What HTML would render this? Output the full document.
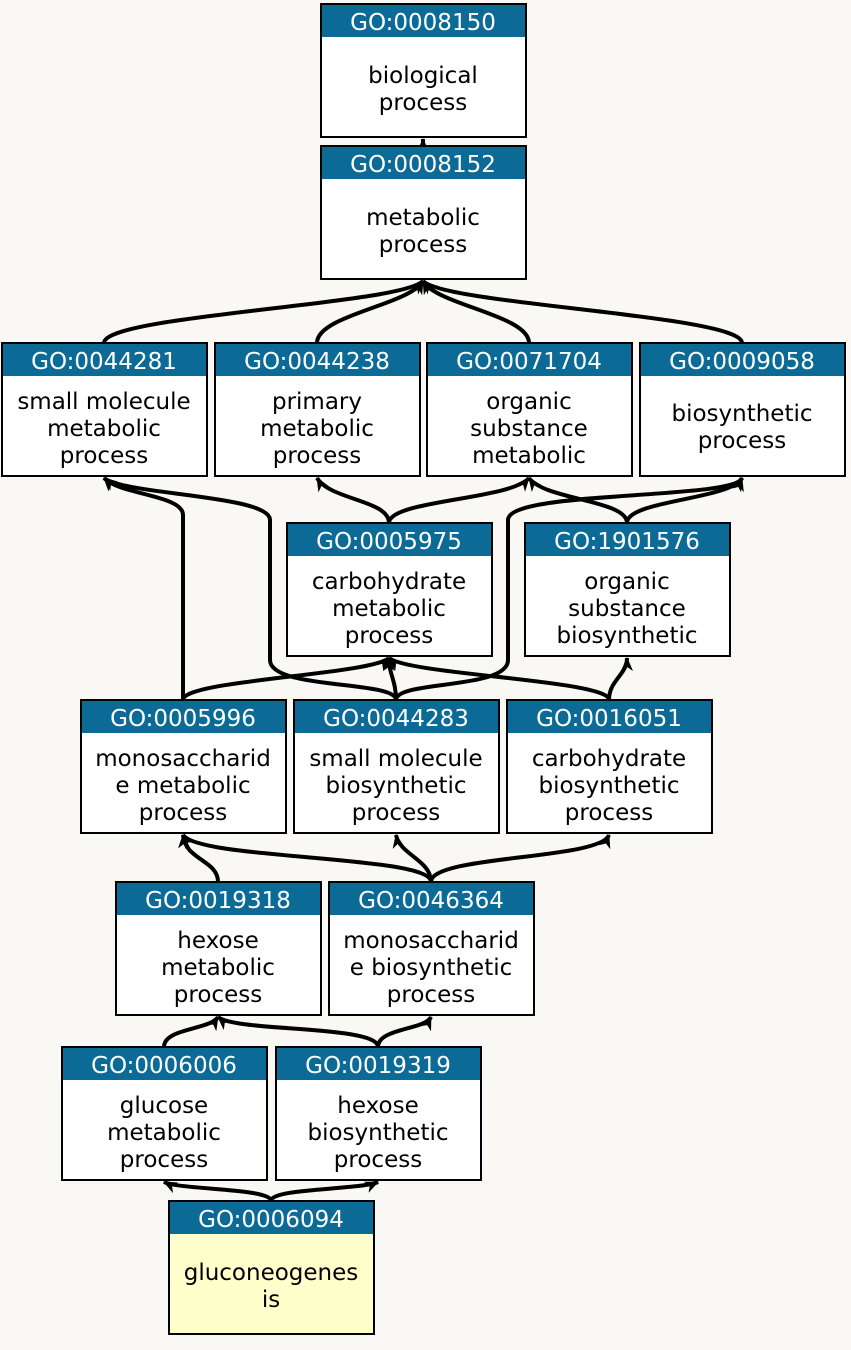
<!DOCTYPE html>
<html><head><meta charset="utf-8"><style>
html,body{margin:0;padding:0;background:#f9f8f5;}
svg{display:block;}
text{font-family:"DejaVu Sans","Liberation Sans",sans-serif;font-size:23px;text-anchor:middle;}
.h{fill:#ffffff;}
.b{fill:#000;}
path.e{fill:none;stroke:#000;stroke-width:4;}
</style></head><body>
<svg width="851" height="1350" viewBox="0 0 851 1350" xmlns="http://www.w3.org/2000/svg">
<defs>
<marker id="a" markerUnits="userSpaceOnUse" markerWidth="16" markerHeight="16" refX="13" refY="7" orient="auto">
<path d="M0,1 L14,7 L0,13 L4,7 Z" fill="#000"/>
</marker>
</defs>
<rect width="851" height="1350" fill="#f9f8f5"/>

<!-- edges -->
<g>
<path class="e" marker-end="url(#a)" d="M423,146 L423,139"/>
<path class="e" marker-end="url(#a)" d="M104,343 C104,315 400,305 423,281"/>
<path class="e" marker-end="url(#a)" d="M317,343 C317,315 410,305 423,281"/>
<path class="e" marker-end="url(#a)" d="M529,343 C529,315 436,305 423,281"/>
<path class="e" marker-end="url(#a)" d="M742,343 C742,315 446,305 423,281"/>

<path class="e" marker-end="url(#a)" d="M389,523 C389,500 330,500 317,478"/>
<path class="e" marker-end="url(#a)" d="M389,523 C389,500 510,500 529,478"/>
<path class="e" marker-end="url(#a)" d="M627,523 C627,500 545,500 529,478"/>
<path class="e" marker-end="url(#a)" d="M627,523 C627,500 730,500 742,478"/>

<path class="e" marker-end="url(#a)" d="M183,700 L183,515 C183,495 120,495 104,478"/>
<path class="e" marker-end="url(#a)" d="M183,700 C183,680 370,675 389,658"/>
<path class="e" marker-end="url(#a)" d="M396,700 C396,680 270,690 270,660 L270,520 C270,495 125,495 104,478"/>
<path class="e" marker-end="url(#a)" d="M396,700 C396,680 389,675 389,658"/>
<path class="e" marker-end="url(#a)" d="M396,700 C396,680 508,690 508,660 L508,520 C508,490 735,500 742,478"/>
<path class="e" marker-end="url(#a)" d="M609,700 C609,680 410,675 389,658"/>
<path class="e" marker-end="url(#a)" d="M609,700 C609,680 627,675 627,658"/>

<path class="e" marker-end="url(#a)" d="M218,882 C218,860 185,860 183,835"/>
<path class="e" marker-end="url(#a)" d="M431,882 C431,855 200,860 183,835"/>
<path class="e" marker-end="url(#a)" d="M431,882 C431,860 400,855 396,835"/>
<path class="e" marker-end="url(#a)" d="M431,882 C431,855 600,860 609,835"/>

<path class="e" marker-end="url(#a)" d="M164,1047 C164,1028 210,1030 218,1017"/>
<path class="e" marker-end="url(#a)" d="M378,1047 C378,1025 235,1032 218,1017"/>
<path class="e" marker-end="url(#a)" d="M378,1047 C378,1028 425,1030 431,1017"/>

<path class="e" marker-end="url(#a)" d="M271,1201 C271,1188 180,1190 164,1182"/>
<path class="e" marker-end="url(#a)" d="M271,1201 C271,1188 360,1190 378,1182"/>
</g>

<!-- nodes -->
<g stroke="#000" stroke-width="2">
<rect x="321" y="4" width="205" height="133" fill="#fff"/>
<rect x="321" y="146" width="205" height="133" fill="#fff"/>
<rect x="2" y="343" width="205" height="133" fill="#fff"/>
<rect x="215" y="343" width="205" height="133" fill="#fff"/>
<rect x="427" y="343" width="205" height="133" fill="#fff"/>
<rect x="640" y="343" width="205" height="133" fill="#fff"/>
<rect x="287" y="523" width="205" height="133" fill="#fff"/>
<rect x="525" y="523" width="205" height="133" fill="#fff"/>
<rect x="81" y="700" width="205" height="133" fill="#fff"/>
<rect x="294" y="700" width="205" height="133" fill="#fff"/>
<rect x="507" y="700" width="205" height="133" fill="#fff"/>
<rect x="116" y="882" width="205" height="133" fill="#fff"/>
<rect x="329" y="882" width="205" height="133" fill="#fff"/>
<rect x="62" y="1047" width="205" height="133" fill="#fff"/>
<rect x="276" y="1047" width="205" height="133" fill="#fff"/>
<rect x="169" y="1201" width="205" height="133" fill="#ffffcc"/>
</g>
<g fill="#0b6b96">
<rect x="322" y="5" width="203" height="32"/>
<rect x="322" y="147" width="203" height="32"/>
<rect x="3" y="344" width="203" height="32"/>
<rect x="216" y="344" width="203" height="32"/>
<rect x="428" y="344" width="203" height="32"/>
<rect x="641" y="344" width="203" height="32"/>
<rect x="288" y="524" width="203" height="32"/>
<rect x="526" y="524" width="203" height="32"/>
<rect x="82" y="701" width="203" height="32"/>
<rect x="295" y="701" width="203" height="32"/>
<rect x="508" y="701" width="203" height="32"/>
<rect x="117" y="883" width="203" height="32"/>
<rect x="330" y="883" width="203" height="32"/>
<rect x="63" y="1048" width="203" height="32"/>
<rect x="277" y="1048" width="203" height="32"/>
<rect x="170" y="1202" width="203" height="32"/>
</g>

<g class="h">
<text x="423" y="30">GO:0008150</text>
<text x="423" y="172">GO:0008152</text>
<text x="104" y="369">GO:0044281</text>
<text x="317" y="369">GO:0044238</text>
<text x="529" y="369">GO:0071704</text>
<text x="742" y="369">GO:0009058</text>
<text x="389" y="549">GO:0005975</text>
<text x="627" y="549">GO:1901576</text>
<text x="183" y="726">GO:0005996</text>
<text x="396" y="726">GO:0044283</text>
<text x="609" y="726">GO:0016051</text>
<text x="218" y="908">GO:0019318</text>
<text x="431" y="908">GO:0046364</text>
<text x="164" y="1073">GO:0006006</text>
<text x="378" y="1073">GO:0019319</text>
<text x="271" y="1227">GO:0006094</text>
</g>

<g class="b">
<text x="423" y="83">biological</text><text x="423" y="110">process</text>
<text x="423" y="225">metabolic</text><text x="423" y="252">process</text>

<text x="104" y="409">small molecule</text><text x="104" y="436">metabolic</text><text x="104" y="463">process</text>
<text x="317" y="409">primary</text><text x="317" y="436">metabolic</text><text x="317" y="463">process</text>
<text x="529" y="409">organic</text><text x="529" y="436">substance</text><text x="529" y="463">metabolic</text>
<text x="742" y="421">biosynthetic</text><text x="742" y="448">process</text>

<text x="389" y="589">carbohydrate</text><text x="389" y="616">metabolic</text><text x="389" y="643">process</text>
<text x="627" y="589">organic</text><text x="627" y="616">substance</text><text x="627" y="643">biosynthetic</text>

<text x="183" y="766">monosaccharid</text><text x="183" y="793">e metabolic</text><text x="183" y="820">process</text>
<text x="396" y="766">small molecule</text><text x="396" y="793">biosynthetic</text><text x="396" y="820">process</text>
<text x="609" y="766">carbohydrate</text><text x="609" y="793">biosynthetic</text><text x="609" y="820">process</text>

<text x="218" y="948">hexose</text><text x="218" y="975">metabolic</text><text x="218" y="1002">process</text>
<text x="431" y="948">monosaccharid</text><text x="431" y="975">e biosynthetic</text><text x="431" y="1002">process</text>

<text x="164" y="1113">glucose</text><text x="164" y="1140">metabolic</text><text x="164" y="1167">process</text>
<text x="378" y="1113">hexose</text><text x="378" y="1140">biosynthetic</text><text x="378" y="1167">process</text>

<text x="271" y="1280">gluconeogenes</text><text x="271" y="1307">is</text>
</g>
</svg>
</body></html>
